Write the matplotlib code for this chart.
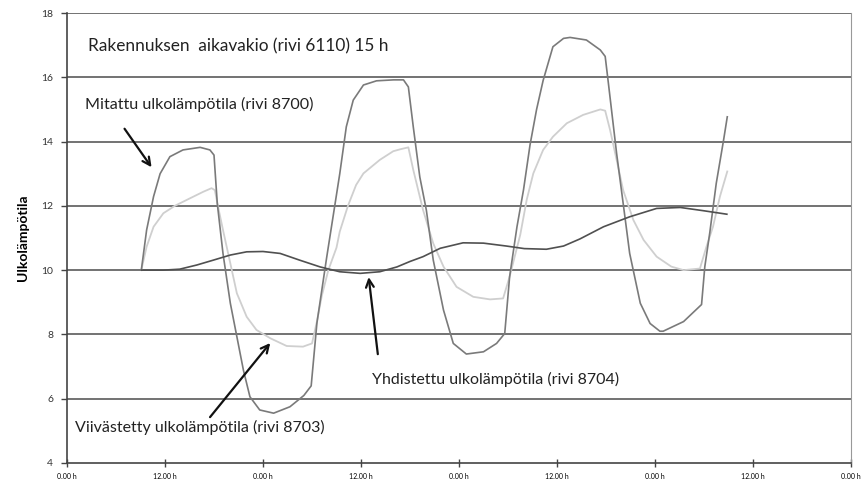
import matplotlib
matplotlib.use("Agg")
import matplotlib.pyplot as plt

# Measured outdoor temperature (row 8700)
hours_measured = [9.1, 9.75, 10.6, 11.4, 12.6, 14.2, 16.3, 17.5, 18.0, 18.4, 19.1, 20.0,
                  20.8, 21.6, 22.4, 23.6, 25.3, 27.3, 29.0, 29.9, 30.6, 31.8, 32.6, 33.4,
                  34.2, 35.05, 36.3, 37.9, 40.0, 41.2, 41.8, 42.4, 43.2, 44.0, 44.85, 46.1,
                  47.3, 48.9, 51.0, 52.6, 53.6, 54.2, 55.1, 55.9, 56.7, 57.5, 58.3, 59.5,
                  60.8, 61.6, 63.6, 65.3, 65.9, 66.3, 67.3, 68.1, 68.9, 70.2, 71.4, 72.6,
                  73.0, 75.5, 77.7, 78.1, 78.7, 79.5, 80.4, 80.85]
temp_measured = [10.0, 11.25, 12.29, 13.0, 13.53, 13.74, 13.82, 13.74, 13.58, 12.08, 10.52, 8.97,
                 7.93, 6.89, 6.06, 5.65, 5.55, 5.75, 6.1, 6.4, 8.35, 10.4, 11.7, 13.0,
                 14.46, 15.29, 15.76, 15.89, 15.92, 15.92, 15.7, 14.46, 12.9, 11.87, 10.31, 8.76,
                 7.72, 7.39, 7.46, 7.72, 8.03, 9.8, 11.35, 12.5, 13.9, 15.0, 15.9, 16.95,
                 17.21, 17.24, 17.16, 16.85, 16.65, 15.8, 13.63, 12.08, 10.52, 8.97, 8.34, 8.1,
                 8.1, 8.4, 8.93, 10.11, 11.15, 12.7, 14.05, 14.77]

# Delayed outdoor temperature (row 8703)
hours_delayed = [9.1, 9.75, 10.6, 11.8, 13.2, 15.1, 16.7, 17.7, 18.1, 18.5, 19.1, 20.0,
                 20.8, 22.0, 23.2, 24.9, 26.9, 28.9, 30.0, 30.6, 31.2, 32.0, 33.0, 33.4,
                 34.4, 35.4, 36.3, 38.3, 39.95, 40.8, 41.8, 42.4, 43.6, 44.85, 46.1, 47.7,
                 49.75, 51.8, 53.4, 54.2, 55.5, 56.3, 57.1, 58.3, 59.5, 61.2, 63.2, 65.3,
                 65.9, 66.5, 67.3, 68.1, 69.35, 70.6, 72.2, 74.0, 75.5, 77.5, 78.3, 79.1,
                 79.95, 80.85]
temp_delayed = [10.0, 10.73, 11.35, 11.77, 12.0, 12.24, 12.44, 12.55, 12.49, 11.97, 11.25, 10.21,
                9.28, 8.55, 8.14, 7.88, 7.64, 7.62, 7.72, 8.4, 9.2, 10.0, 10.7, 11.2,
                12.0, 12.65, 13.01, 13.43, 13.7, 13.76, 13.82, 13.12, 11.87, 10.83, 10.11, 9.48,
                9.17, 9.09, 9.12, 9.8, 11.1, 12.2, 13.01, 13.74, 14.15, 14.57, 14.83, 15.0,
                14.96, 14.36, 13.43, 12.49, 11.56, 10.94, 10.42, 10.11, 10.0, 10.05, 10.73, 11.35,
                12.29, 13.07]

# Combined outdoor temperature (row 8704)
hours_combined = [9.1, 11.8, 13.8, 15.9, 17.9, 20.0, 22.0, 24.0, 26.1, 28.5, 31.0, 33.4,
                  35.9, 38.3, 40.4, 42.0, 43.6, 45.7, 48.5, 51.0, 53.8, 56.0, 58.7, 60.8,
                  62.8, 65.7, 68.9, 72.2, 75.1, 77.9, 80.8]
temp_combined = [10.0, 10.0, 10.03, 10.16, 10.31, 10.47, 10.57, 10.58, 10.52, 10.31, 10.1, 9.95,
                 9.9, 9.95, 10.1, 10.27, 10.42, 10.68, 10.85, 10.84, 10.75, 10.67, 10.65, 10.75,
                 10.97, 11.35, 11.66, 11.92, 11.95, 11.85, 11.74]

x_ticks = [0, 12, 24, 36, 48, 60, 72, 84, 96]
x_tick_labels = ["0.00 h", "12.00 h", "0.00 h", "12.00 h", "0.00 h",
                 "12.00 h", "0.00 h", "12.00 h", "0.00 h"]
y_ticks = [4, 6, 8, 10, 12, 14, 16, 18]

plt.rcParams["font.family"] = ["Lato", "DejaVu Sans"]

fig = plt.figure(figsize=(8.62, 4.82), dpi=100)
ax = fig.add_axes([67 / 862, 19 / 482, (851 - 67) / 862, (463 - 13) / 482])

for y in y_ticks[1:]:
    ax.axhline(y, color="#5a5a5a", lw=1.2, zorder=1)

ax.plot(hours_delayed, temp_delayed, color="#cfcfcf", lw=1.3, zorder=2)
ax.plot(hours_measured, temp_measured, color="#7a7a7a", lw=1.2, zorder=3)
ax.plot(hours_combined, temp_combined, color="#505050", lw=1.2, zorder=4)

ax.set_xlim(0, 96)
ax.set_ylim(4, 18)
ax.set_xticks(x_ticks)
ax.set_xticklabels(x_tick_labels, fontsize=5)
ax.set_yticks(y_ticks)
ax.set_yticklabels([str(v) for v in y_ticks], fontsize=7.5, color="#333333")
ax.tick_params(axis="y", direction="out", length=4, width=1, color="#444444", pad=6)
ax.tick_params(axis="x", direction="inout", length=6, width=1, color="#444444", pad=4)

ax.spines["top"].set_visible(False)
ax.spines["left"].set_color("#444444")
ax.spines["bottom"].set_color("#444444")
ax.spines["right"].set_color("#999999")
ax.spines["left"].set_linewidth(1.2)
ax.spines["bottom"].set_linewidth(1.2)

ax.set_ylabel("Ulkolämpötila", fontsize=10, fontweight="bold", labelpad=9)

txt = dict(color="#222222", zorder=6)
ax.text(2.6, 16.95, "Rakennuksen  aikavakio (rivi 6110) 15 h", va="center", fontsize=12.4, **txt)
ax.text(2.2, 15.15, "Mitattu ulkolämpötila (rivi 8700)", va="center", fontsize=11.6, **txt)
ax.text(1.0, 5.1, "Viivästetty ulkolämpötila (rivi 8703)", va="center", fontsize=11.5, **txt)
ax.text(37.3, 6.6, "Yhdistettu ulkolämpötila (rivi 8704)", va="center", fontsize=11.5, **txt)

arrow = dict(arrowstyle="->", color="#111111", lw=1.6, mutation_scale=14)
ax.annotate("", xy=(10.55, 13.13), xytext=(6.85, 14.47), arrowprops=arrow, zorder=6)
ax.annotate("", xy=(25.1, 7.8), xytext=(17.3, 5.36), arrowprops=arrow, zorder=6)
ax.annotate("", xy=(36.9, 9.87), xytext=(38.1, 7.3), arrowprops=arrow, zorder=6)

fig.savefig("out.png", dpi=100)
